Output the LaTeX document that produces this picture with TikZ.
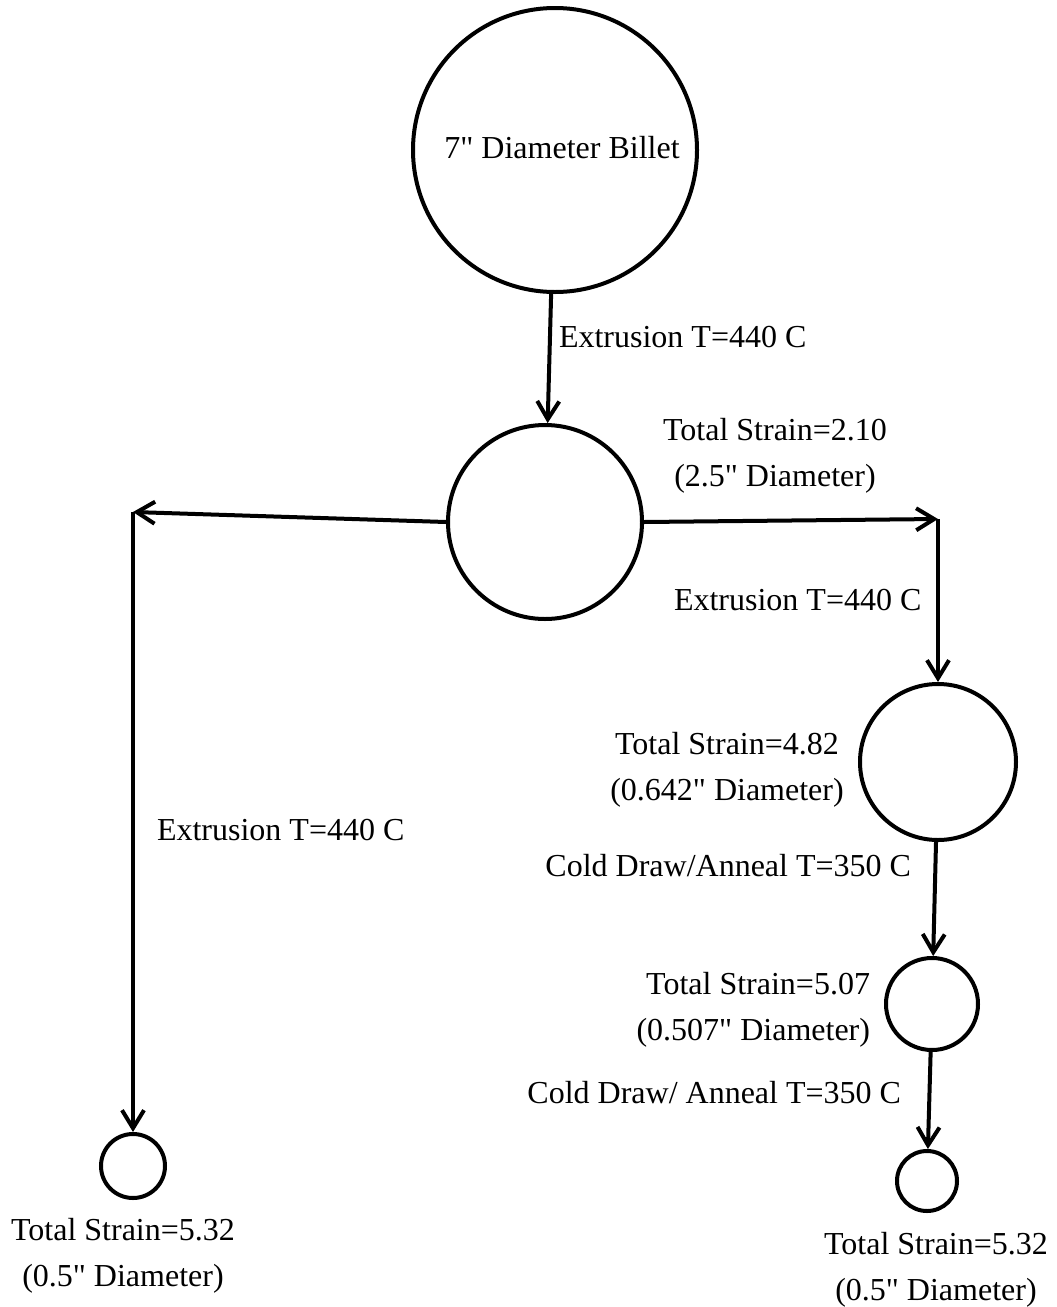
\documentclass[tikz,border=0pt]{standalone}
\usepackage{fontspec}
\setmainfont{Liberation Serif}[Ligatures=TeXOff]
\usetikzlibrary{arrows.meta}

\begin{document}
\begin{tikzpicture}[x=0.5pt, y=-0.5pt, line width=2pt,
  stage/.style = {draw, circle, inner sep=0pt, line width=2pt},
  lbl/.style = {inner sep=0pt, font=\fontsize{16}{23}\selectfont},
  flow/.style = {-{Straight Barb[length=9pt, width=11pt, line width=2pt]}}]
\useasboundingbox (0,0) rectangle (1056,1307);
% stages of the billet
\node[stage, minimum size=142pt] (1) at (555,150) {};
\node[stage, minimum size=97pt] (2) at (545,522) {};
\node[stage, minimum size=78pt] (3) at (938,762) {};
\node[stage, minimum size=46pt] (4) at (932,1004) {};
\node[stage, minimum size=30pt] (5) at (927,1181) {};
\node[stage, minimum size=32pt] (6) at (133,1166) {};
\coordinate (L) at (133,512);
\coordinate (R) at (938,519);
% labels
\node[lbl] (t1) at (562,148) {7" Diameter Billet};
\node[lbl, anchor=west] (e1) at (557,337) {Extrusion T=440 C};
\node[lbl, align=center] (s2) at (775,456) {Total Strain=2.10\\(2.5" Diameter)};
\node[lbl, anchor=west] (e2) at (672,600) {Extrusion T=440 C};
\node[lbl, align=center] (s3) at (727,770) {Total Strain=4.82\\(0.642" Diameter)};
\node[lbl, anchor=west] (e3) at (155,830) {Extrusion T=440 C};
\node[lbl, anchor=east] (d1) at (913,866) {Cold Draw/Anneal T=350 C};
\node[lbl, align=right, anchor=east] (s4) at (872,1010) {Total Strain=5.07\\(0.507" Diameter)};
\node[lbl, anchor=east] (d2) at (903,1093) {Cold Draw/ Anneal T=350 C};
\node[lbl, align=center] (s6) at (123,1256) {Total Strain=5.32\\(0.5" Diameter)};
\node[lbl, align=center] (s5) at (936,1270) {Total Strain=5.32\\(0.5" Diameter)};
% process flow
\draw[flow] (1) -- (2);
\draw[flow] (2.west) -- (L);
\draw[flow] (L) -- (6);
\draw[flow] (2.east) -- (R);
\draw[flow] (R) -- (3);
\draw[flow] (3) -- (4);
\draw[flow] (4) -- (5);
\end{tikzpicture}
\end{document}
